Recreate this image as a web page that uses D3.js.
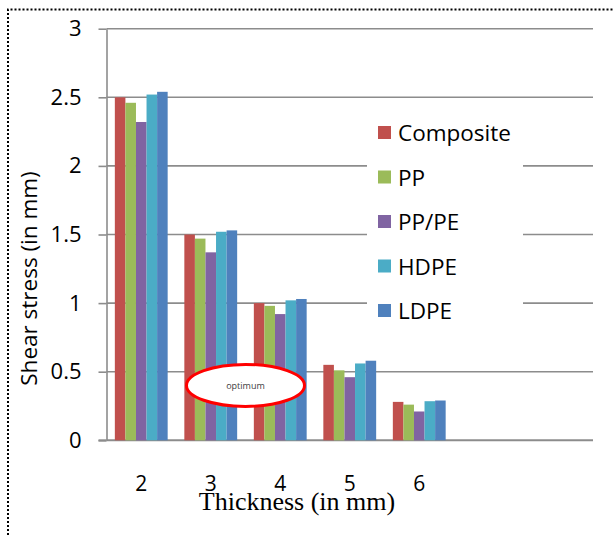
<!DOCTYPE html>
<html>
<head>
<meta charset="utf-8">
<script src="https://cdn.jsdelivr.net/npm/d3@7"></script>
<style>
  body { margin: 0; background: #fff; }
  svg { display: block; }
</style>
</head>
<body>
<script>
(function(){

  //chart data
  var categories = ["2", "3", "4", "5", "6", "", ""]; //thickness in mm (last two slots empty)
  var seriesNames = ["Composite", "PP", "PP/PE", "HDPE", "LDPE"];
  var composite = [2.50, 1.50, 1.00, 0.55, 0.28];
  var pp = [2.46, 1.47, 0.98, 0.51, 0.26];
  var ppPe = [2.32, 1.37, 0.92, 0.46, 0.21];
  var hdpe = [2.52, 1.52, 1.02, 0.56, 0.285];
  var ldpe = [2.54, 1.53, 1.03, 0.58, 0.29];
  var yTicks = [0, 0.5, 1, 1.5, 2, 2.5, 3];
  var seriesColors = ["#C0504D", "#9BBB59", "#8064A2", "#4BACC6", "#4F81BD"];

  var allSeries = [composite, pp, ppPe, hdpe, ldpe];

  window.onload = drawChart(); //draw when the page loads

  function drawChart(){
    var width = 614,
        height = 535;

    var svg = d3.select("body")
      .append("svg")
      .attr("width", width)
      .attr("height", height);

    //dotted frame round the chart (top and left edges only are visible)
    svg.append("path")
      .attr("d", "M8,535 L8,9.5 L614,9.5")
      .attr("fill", "none")
      .attr("stroke", "#000")
      .attr("stroke-width", 2)
      .attr("stroke-dasharray", "2,2");

    var plot = {left: 106.5, right: 593, top: 28.7, bottom: 440.3};

    var y = d3.scaleLinear()
      .domain([0, 3])
      .range([plot.bottom, plot.top]);

    var x0 = d3.scaleBand()
      .domain(d3.range(categories.length))
      .range([plot.left, plot.right])
      .paddingInner(0.24)
      .paddingOuter(0.12);

    var x1 = d3.scaleBand()
      .domain(d3.range(seriesNames.length))
      .range([0, x0.bandwidth()]);

    //gridlines
    svg.append("g")
      .selectAll("line")
      .data(yTicks)
      .enter()
      .append("line")
      .attr("x1", plot.left)
      .attr("x2", plot.right)
      .attr("y1", function(d){ return y(d); })
      .attr("y2", function(d){ return y(d); })
      .attr("stroke", "#8c8c8c")
      .attr("stroke-width", function(d){ return d === 0 ? 2 : 1.6; });

    //y axis with its ticks and labels
    var yAxis = svg.append("g")
      .attr("transform", "translate(" + plot.left + ",0)")
      .call(d3.axisLeft(y).tickValues(yTicks).tickSize(8).tickSizeOuter(0).tickPadding(17)
        .tickFormat(function(d){ return String(d); }));
    yAxis.select(".domain").attr("stroke", "#8c8c8c").attr("stroke-width", 1.6);
    yAxis.selectAll(".tick line").attr("stroke", "#8c8c8c").attr("stroke-width", 1.6);
    yAxis.selectAll("text")
      .attr("font-family", "'Open Sans', sans-serif")
      .attr("font-size", 22)
      .attr("fill", "#000");

    //tick extension left of the x axis line
    svg.append("line")
      .attr("x1", plot.left - 8)
      .attr("x2", plot.left)
      .attr("y1", y(0))
      .attr("y2", y(0))
      .attr("stroke", "#8c8c8c")
      .attr("stroke-width", 2);

    //x axis labels
    var xAxis = svg.append("g")
      .attr("transform", "translate(0," + plot.bottom + ")")
      .call(d3.axisBottom(x0).tickSize(0).tickPadding(36)
        .tickFormat(function(i){ return categories[i]; }));
    xAxis.select(".domain").remove();
    xAxis.selectAll("text")
      .attr("font-family", "'Open Sans', sans-serif")
      .attr("font-size", 21)
      .attr("fill", "#000");

    //bars
    var groups = svg.append("g")
      .selectAll("g")
      .data(composite.map(function(d, i){ return i; }))
      .enter()
      .append("g")
      .attr("transform", function(i){ return "translate(" + x0(i) + ",0)"; });

    groups.selectAll("rect")
      .data(function(i){
        return allSeries.map(function(s, k){ return {k: k, v: s[i]}; });
      })
      .enter()
      .append("rect")
      .attr("x", function(d){ return x1(d.k); })
      .attr("width", x1.bandwidth())
      .attr("y", function(d){ return y(d.v); })
      .attr("height", function(d){ return y(0) - y(d.v); })
      .attr("fill", function(d){ return seriesColors[d.k]; });

    //legend
    var legend = svg.append("g");
    legend.append("rect")
      .attr("x", 367)
      .attr("y", 112)
      .attr("width", 156)
      .attr("height", 220)
      .attr("fill", "#fff");

    var rows = legend.selectAll(".row")
      .data(seriesNames)
      .enter()
      .append("g")
      .attr("class", "row")
      .attr("transform", function(d, i){ return "translate(378," + (133 + i * 44.5) + ")"; });

    rows.append("rect")
      .attr("x", 0)
      .attr("y", -7)
      .attr("width", 13)
      .attr("height", 13)
      .attr("fill", function(d, i){ return seriesColors[i]; });

    rows.append("text")
      .attr("x", 20)
      .attr("dy", "0.36em")
      .attr("font-family", "'Open Sans', sans-serif")
      .attr("font-size", 22.5)
      .attr("fill", "#000")
      .text(function(d){ return d; });

    //axis titles
    svg.append("text")
      .attr("transform", "translate(36.5,278.5) rotate(-90)")
      .attr("text-anchor", "middle")
      .attr("font-family", "'Open Sans', sans-serif")
      .attr("font-size", 22.5)
      .attr("fill", "#000")
      .text("Shear stress (in mm)");

    svg.append("text")
      .attr("x", 297)
      .attr("y", 510)
      .attr("text-anchor", "middle")
      .attr("font-family", "'Liberation Serif', 'Times New Roman', serif")
      .attr("font-size", 26)
      .attr("fill", "#000")
      .text("Thickness (in mm)");

    //"optimum" callout between 3 mm and 4 mm
    var cx = (x0(1) + x0.bandwidth() / 2 + x0(2) + x0.bandwidth() / 2) / 2;
    var cy = y(0.4);
    svg.append("ellipse")
      .attr("cx", cx)
      .attr("cy", cy)
      .attr("rx", 59)
      .attr("ry", 21)
      .attr("fill", "#fff")
      .attr("stroke", "#ff0000")
      .attr("stroke-width", 3);
    svg.append("text")
      .attr("x", cx)
      .attr("y", cy)
      .attr("dy", "0.35em")
      .attr("text-anchor", "middle")
      .attr("font-family", "'Open Sans', sans-serif")
      .attr("font-size", 9)
      .attr("fill", "#404040")
      .text("optimum");
  };
})();
</script>
</body>
</html>
